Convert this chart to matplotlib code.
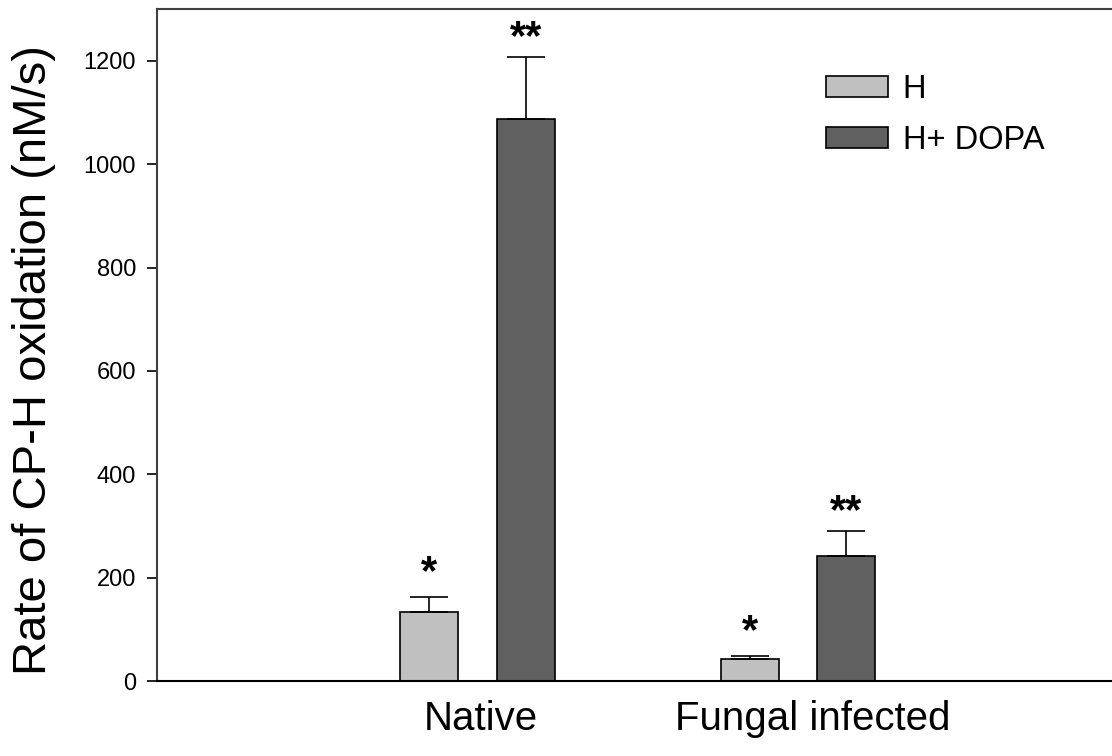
import numpy as np
import matplotlib
matplotlib.use('Agg')
import matplotlib.pyplot as plt

plt.rcParams['font.family'] = ['Liberation Sans', 'DejaVu Sans']

# 数据
groups = ['Native', 'Fungal infected']
series = ['H', 'H+ DOPA']
h_vals = [133.5, 42.6]
h_err = [29, 6]
dopa_vals = [1088, 242]
dopa_err = [120, 48]
h_marks = ['*', '*']
dopa_marks = ['**', '**']

c_light = '#c0c0c0'
c_dark = '#606060'

fig = plt.figure(figsize=(11.12, 7.56), dpi=100)
ax = fig.add_axes([0.1412, 0.0992, 0.8646, 0.8888])

x = np.arange(len(groups))
w = 0.181
off = 0.151

b1 = ax.bar(x - off, h_vals, w, color=c_light, edgecolor='black', linewidth=1.2,
            yerr=[np.zeros(2), h_err], capsize=14,
            error_kw=dict(ecolor='black', elinewidth=1.2, capthick=1.2), label=series[0])
b2 = ax.bar(x + off, dopa_vals, w, color=c_dark, edgecolor='black', linewidth=1.2,
            yerr=[np.zeros(2), dopa_err], capsize=14,
            error_kw=dict(ecolor='black', elinewidth=1.2, capthick=1.2), label=series[1])

# 星号
for i in range(len(groups)):
    ax.annotate(h_marks[i], (x[i] - off, h_vals[i] + h_err[i]), xytext=(0, 3),
                textcoords='offset points', ha='center', va='bottom',
                fontsize=30, fontweight='bold')
    ax.annotate(dopa_marks[i], (x[i] + off, dopa_vals[i] + dopa_err[i]), xytext=(0, -1),
                textcoords='offset points', ha='center', va='bottom',
                fontsize=30, fontweight='bold')

ax.set_xlim(-1, 2)
ax.set_ylim(0, 1300)
ax.set_yticks(np.arange(0, 1201, 200))
ax.tick_params(axis='y', direction='out', length=7, width=1.2, labelsize=17, pad=8)
ax.set_xticks([0.01, 1.045])
ax.set_xticklabels(groups, fontsize=29)
ax.tick_params(axis='x', length=0, pad=14)
ax.set_ylabel('Rate of CP-H oxidation (nM/s)', fontsize=34)
ax.yaxis.set_label_coords(-0.105, 0.478)

ax.spines['right'].set_visible(False)
ax.spines['left'].set_color('#404040')
ax.spines['top'].set_color('#404040')
ax.spines['left'].set_linewidth(1.5)
ax.spines['top'].set_linewidth(1.5)
ax.spines['bottom'].set_linewidth(1.5)

ax.legend(loc='upper left', bbox_to_anchor=(0.696, 0.903), frameon=False, fontsize=23.5,
          borderpad=0, borderaxespad=0,
          handlelength=1.9, handleheight=0.6, handletextpad=0.45, labelspacing=0.6)

plt.savefig('out.png', dpi=100)
